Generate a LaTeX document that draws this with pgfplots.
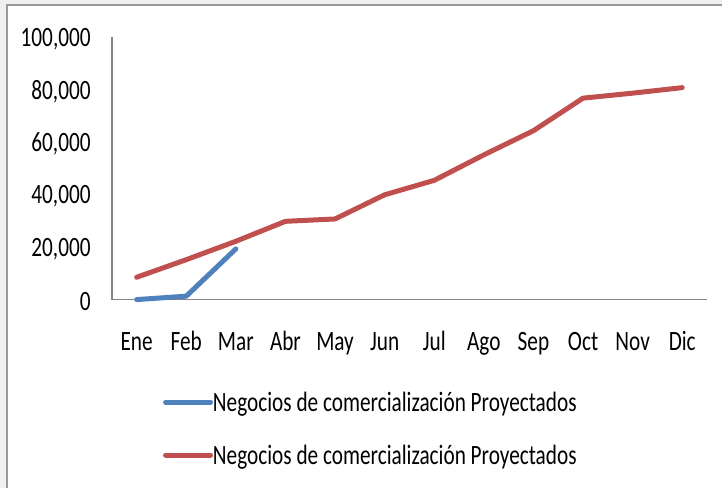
\documentclass[border=0pt]{standalone}
\usepackage{fontspec}
\setmainfont{Carlito}[FakeStretch=0.76]
\usepackage{pgfplots}
\pgfplotsset{compat=1.18}
\definecolor{serblue}{HTML}{4F81BD}
\definecolor{serred}{HTML}{C0504D}
\definecolor{axgray}{HTML}{868686}
\definecolor{bggray}{HTML}{F0F0F0}
\begin{document}
\begin{tikzpicture}
\fill[bggray] (0,0) rectangle (542.25pt,366.75pt);
\fill[white] (5.25pt,0pt) rectangle (542.25pt,363pt);
\draw[gray!80, line width=1.5pt] (5.25pt,0pt) -- (5.25pt,363pt) -- (542.25pt,363pt);
\useasboundingbox (0,0) rectangle (542.25pt,366.75pt);
\begin{axis}[
  at={(84pt,141.75pt)}, anchor=south west,
  scale only axis, width=447pt, height=197.25pt,
  xmin=-0.5, xmax=11.5, ymin=0, ymax=100000,
  axis x line*=bottom, axis y line*=left,
  axis line style={axgray, line width=1.2pt},
  major tick length=0pt,
  xtick={0,...,11},
  xticklabels={Ene,Feb,Mar,Abr,May,Jun,Jul,Ago,Sep,Oct,Nov,Dic},
  ytick={0,20000,40000,60000,80000,100000},
  scaled y ticks=false,
  font=\fontsize{21}{25}\selectfont,
  /pgf/number format/assume math mode=true,
  y tick label style={/pgf/number format/.cd, fixed, 1000 sep={,}, /tikz/.cd, anchor=east, inner sep=0pt, xshift=-15.75pt, yshift=-1.5pt},
  x tick label style={anchor=base, inner sep=0pt, yshift=-38pt},
  legend cell align=left,
  legend style={draw=none, fill=none, at={(rel axis cs:0.0856,-0.3487)}, anchor=north west,
    inner sep=0pt, row sep=19.75pt, font=\fontsize{21}{25}\selectfont,
    nodes={text height=15pt, text depth=5pt, inner sep=0pt},
    /tikz/every even column/.append style={column sep=3pt}},
  legend image code/.code={\draw[#1] (0pt,2pt) -- (33.75pt,2pt);},
  clip=false,
]
\addplot[serblue, line width=3.75pt, line cap=round, line join=round] coordinates {
  (0,0) (1,1300) (2,19300)
};
\addlegendentry{Negocios de comercialización Proyectados}
\addplot[serred, line width=3.75pt, line cap=round, line join=round] coordinates {
  (0,8500) (1,15200) (2,22200) (3,29800) (4,30700) (5,39900)
  (6,45400) (7,55100) (8,64300) (9,76700) (10,78600) (11,80700)
};
\addlegendentry{Negocios de comercialización Proyectados}
\end{axis}
\end{tikzpicture}
\end{document}
